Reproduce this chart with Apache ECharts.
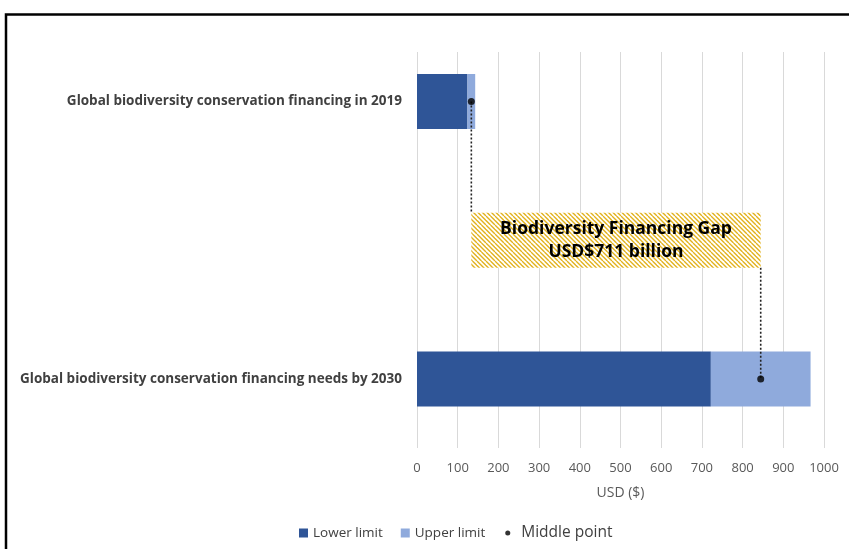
<!DOCTYPE html>
<html>
<head>
<meta charset="utf-8">
<script src="https://cdn.jsdelivr.net/npm/echarts@6/dist/echarts.min.js"></script>
<style>
  html, body { margin: 0; padding: 0; background: #fff; }
  #chart { width: 849px; height: 549px; }
</style>
</head>
<body>
<div id="chart"></div>
<script>
// Funding ranges, USD billion
const categories = [
  'Global biodiversity conservation financing in 2019',
  'Global biodiversity conservation financing needs by 2030'
];
const lowerLimit = [124, 722];
const upperLimit = [143, 967];
const middlePoint = [133.5, 844.5];
const xTicks = { min: 0, max: 1000, step: 100 };

// the stacked upper piece spans lower -> upper limit
const upperPiece = upperLimit.map((u, i) => u - lowerLimit[i]);
const gapValue = Math.round(middlePoint[1] - middlePoint[0]);

// diagonal hatch used for the gap box
function hatchCanvas() {
  const c = document.createElement('canvas');
  c.width = 9; c.height = 9;
  const g = c.getContext('2d');
  g.fillStyle = '#ffffff';
  g.fillRect(0, 0, 9, 9);
  g.strokeStyle = '#E2B21C';
  g.lineWidth = 1.35;
  for (let k = -9; k <= 9; k += 4.5) {
    g.beginPath();
    g.moveTo(k, 0);
    g.lineTo(k + 9, 9);
    g.stroke();
  }
  return c;
}

const chart = echarts.init(document.getElementById('chart'));
const font = '"Open Sans", "Noto Sans", sans-serif';
// small dot centred in a 10x10 legend box
const smallDot = 'path://M0 0M10 10M5 2.2A2.8 2.8 0 1 1 5 7.8A2.8 2.8 0 1 1 5 2.2Z';

chart.setOption({
  animation: false,
  backgroundColor: '#ffffff',
  textStyle: { fontFamily: font },
  graphic: [{
    type: 'rect',
    shape: { x: 6, y: 14.5, width: 900, height: 600 },
    style: { fill: 'none', stroke: '#000', lineWidth: 2.5 },
    silent: true
  }],
  grid: [
    { left: 417, right: 25, top: 52, bottom: 101 },
    { left: 417, right: 25, top: 101.5, bottom: 170 }
  ],
  xAxis: [{
    gridIndex: 0,
    type: 'value',
    min: xTicks.min, max: xTicks.max, interval: xTicks.step,
    axisLine: { show: false },
    axisTick: { show: false },
    splitLine: { show: true, lineStyle: { color: '#d9d9d9', width: 1 } },
    axisLabel: {
      color: '#595959', fontSize: 13, margin: 14, fontFamily: font,
      formatter: v => String(v)
    },
    name: 'USD ($)',
    nameLocation: 'middle',
    nameGap: 38,
    nameTextStyle: { color: '#595959', fontSize: 14, fontFamily: font }
  }, {
    gridIndex: 1,
    type: 'value',
    min: xTicks.min, max: xTicks.max,
    show: false
  }],
  yAxis: [{
    gridIndex: 0,
    type: 'value',
    show: false
  }, {
    gridIndex: 1,
    type: 'category',
    data: categories,
    inverse: true,
    boundaryGap: false,
    axisLine: { show: false },
    axisTick: { show: false },
    splitLine: { show: false },
    axisLabel: { color: '#404040', fontSize: 13.5, fontWeight: 'bold', margin: 15, fontFamily: font }
  }],
  legend: {
    bottom: 3,
    left: 294,
    itemWidth: 9,
    itemHeight: 9,
    itemGap: 18,
    textStyle: { color: '#404040', fontSize: 13.5, fontFamily: font },
    data: [
      { name: 'Lower limit', icon: 'rect' },
      { name: 'Upper limit', icon: 'rect' },
      { name: 'Middle point', icon: smallDot, textStyle: { fontSize: 15.5, padding: [0, 0, 0, 4] } }
    ]
  },
  series: [{
    name: 'Lower limit',
    type: 'bar',
    xAxisIndex: 1, yAxisIndex: 1,
    stack: 'range',
    barWidth: 55,
    itemStyle: { color: '#2F5597' },
    data: lowerLimit,
    z: 2
  }, {
    name: 'Upper limit',
    type: 'bar',
    xAxisIndex: 1, yAxisIndex: 1,
    stack: 'range',
    barWidth: 55,
    itemStyle: { color: '#8FAADC' },
    data: upperPiece,
    z: 2
  }, {
    name: 'Gap',
    type: 'custom',
    xAxisIndex: 1, yAxisIndex: 1,
    z: 3,
    data: [[middlePoint[0], middlePoint[1]]],
    renderItem: function (params, api) {
      const a = api.coord([api.value(0), 0]);
      const b = api.coord([api.value(1), 1]);
      const mid = (a[1] + b[1]) / 2;
      const h = 55;
      const top = mid - h / 2, bot = mid + h / 2;
      const dash = { stroke: '#222', lineWidth: 1.6, lineDash: [2, 2] };
      return {
        type: 'group',
        children: [{
          type: 'line',
          shape: { x1: a[0], y1: a[1], x2: a[0], y2: top },
          style: dash
        }, {
          type: 'line',
          shape: { x1: b[0], y1: bot, x2: b[0], y2: b[1] },
          style: dash
        }, {
          type: 'rect',
          shape: { x: a[0], y: top, width: b[0] - a[0], height: h },
          style: { fill: { image: hatchCanvas(), repeat: 'repeat' } }
        }, {
          type: 'text',
          x: (a[0] + b[0]) / 2,
          y: mid,
          style: {
            text: 'Biodiversity Financing Gap\nUSD$' + gapValue + ' billion',
            align: 'center',
            verticalAlign: 'middle',
            fill: '#000',
            font: 'bold 17.5px ' + font,
            lineHeight: 23
          }
        }]
      };
    }
  }, {
    name: 'Middle point',
    type: 'scatter',
    xAxisIndex: 1, yAxisIndex: 1,
    symbol: 'circle',
    symbolSize: 7,
    itemStyle: { color: '#000' },
    data: middlePoint.map((v, i) => [v, i]),
    z: 5
  }]
});
</script>
</body>
</html>
